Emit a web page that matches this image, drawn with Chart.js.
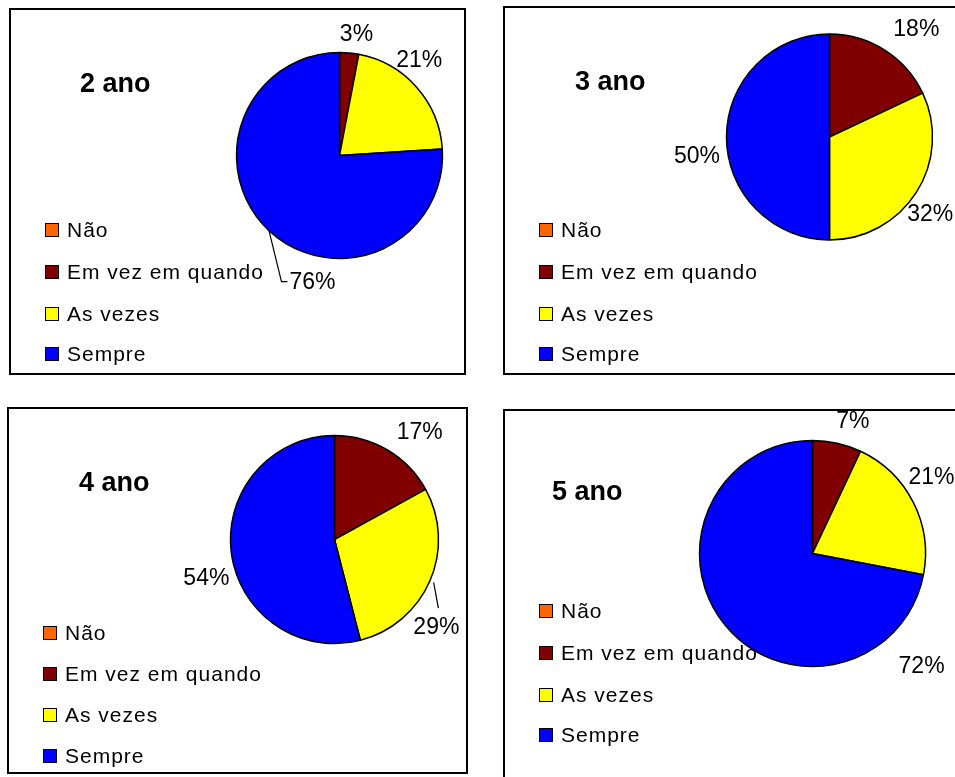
<!DOCTYPE html>
<html>
<head>
<meta charset="utf-8">
<script src="https://cdn.jsdelivr.net/npm/chart.js@4/dist/chart.umd.min.js"></script>
<style>
  html, body { margin: 0; padding: 0; background: #fff; }
  body { width: 955px; height: 777px; overflow: hidden; position: relative;
         font-family: Arial, "Liberation Sans", sans-serif; color: #000; }
  .box { position: absolute; border: 2px solid #000; box-sizing: border-box; }
  .box canvas { position: absolute; left: -2px; top: -2px; }
  .title { position: absolute; font-weight: bold; font-size: 27px; line-height: 30px; white-space: nowrap; }
  .item { position: absolute; font-size: 21px; line-height: 24px; letter-spacing: 1px; white-space: nowrap; }
  .swatch { position: absolute; width: 14px; height: 14px; border: 1px solid #000; box-sizing: border-box; }
</style>
</head>
<body>
<script>
// answers per school year, in percent
const categories = ["Não", "Em vez em quando", "As vezes", "Sempre"];
const titles = ["2 ano", "3 ano", "4 ano", "5 ano"];
const ano2 = [0, 3, 21, 76];
const ano3 = [0, 18, 32, 50];
const ano4 = [0, 17, 29, 54];
const ano5 = [0, 7, 21, 72];
const sliceColors = ["#FF6600", "#800000", "#FFFF00", "#0000FF"];

// where each panel sits on the page
const panels = [
  { values: ano2, box: [9, 8, 457, 367], pie: [339.5, 155.5, 103],
    title: [80, 83], legend: [45, [230, 272, 314, 354]],
    places: [null, { angle: 8, dist: 122 }, { angle: 40, dist: 124 },
             { angle: 192, dist: 130, leader: { gap: 0, bend: [-31, -1], end: [-25, -1] } }] },
  { values: ano3, box: [503, 6, 470, 369], pie: [829.5, 137, 103],
    title: [575, 81], legend: [539, [230, 272, 314, 354]],
    places: [null, { angle: 39, dist: 138 }, { angle: 127.5, dist: 127 }, { angle: 261.5, dist: 134 }] },
  { values: ano4, box: [7, 407, 461, 367], pie: [334.5, 539.5, 104],
    title: [79, 482], legend: [43, [633, 674, 715, 756]],
    places: [null, { angle: 38.5, dist: 137 },
             { angle: 131, dist: 135, leader: { gap: 4, end: [2, -20] } },
             { angle: 253, dist: 134 }] },
  { values: ano5, box: [503, 409, 470, 380], pie: [812.5, 553.5, 113],
    title: [552, 491], legend: [539, [611, 653, 695, 735]],
    places: [null, { angle: 17, dist: 138 }, { angle: 57.5, dist: 141 }, { angle: 136, dist: 157 }] }
];

// percentage labels around the pie, anchored on the arcs Chart.js laid out
const pctLabels = {
  id: "pctLabels",
  afterDatasetsDraw(chart, args, opts) {
    const ctx = chart.ctx;
    const meta = chart.getDatasetMeta(0);
    const values = chart.data.datasets[0].data;
    ctx.save();
    ctx.font = '23px Arial, "Liberation Sans", sans-serif';
    ctx.fillStyle = "#000";
    ctx.strokeStyle = "#000";
    ctx.lineWidth = 1.2;
    ctx.textAlign = "center";
    ctx.textBaseline = "middle";
    meta.data.forEach(function (arc, i) {
      const place = opts.places[i];
      if (!place) return;
      const p = arc.getProps(["x", "y", "outerRadius", "startAngle", "endAngle"], true);
      const a = (place.angle - 90) * Math.PI / 180;
      const lx = p.x + Math.cos(a) * place.dist;
      const ly = p.y + Math.sin(a) * place.dist;
      if (place.leader) {
        const mid = (p.startAngle + p.endAngle) / 2;
        const r0 = p.outerRadius + place.leader.gap;
        ctx.beginPath();
        ctx.moveTo(p.x + Math.cos(mid) * r0, p.y + Math.sin(mid) * r0);
        if (place.leader.bend) ctx.lineTo(lx + place.leader.bend[0], ly + place.leader.bend[1]);
        ctx.lineTo(lx + place.leader.end[0], ly + place.leader.end[1]);
        ctx.stroke();
      }
      ctx.fillText(values[i] + "%", lx, ly);
    });
    ctx.restore();
  }
};

panels.forEach(function (pn, k) {
  const [bx, by, bw, bh] = pn.box;
  const [cx, cy, r] = pn.pie;

  const box = document.createElement("div");
  box.className = "box";
  box.style.left = bx + "px";
  box.style.top = by + "px";
  box.style.width = bw + "px";
  box.style.height = bh + "px";
  document.body.appendChild(box);

  const canvas = document.createElement("canvas");
  canvas.width = bw;
  canvas.height = bh;
  box.appendChild(canvas);

  const px = cx - bx, py = cy - by;
  new Chart(canvas.getContext("2d"), {
    type: "pie",
    data: {
      labels: categories,
      datasets: [{
        data: pn.values,
        backgroundColor: sliceColors,
        borderColor: "#000",
        borderWidth: 1.5,
        radius: r,
        hoverOffset: 0
      }]
    },
    options: {
      responsive: false,
      animation: false,
      events: [],
      layout: { padding: { left: px - r, top: py - r, right: bw - px - r, bottom: bh - py - r } },
      plugins: {
        legend: { display: false },
        tooltip: { enabled: false },
        pctLabels: { places: pn.places }
      }
    },
    plugins: [pctLabels]
  });

  const title = document.createElement("div");
  title.className = "title";
  title.textContent = titles[k];
  title.style.left = pn.title[0] + "px";
  title.style.top = (pn.title[1] - 15) + "px";
  document.body.appendChild(title);

  categories.forEach(function (name, i) {
    const y = pn.legend[1][i];
    const sw = document.createElement("div");
    sw.className = "swatch";
    sw.style.background = sliceColors[i];
    sw.style.left = pn.legend[0] + "px";
    sw.style.top = (y - 7) + "px";
    document.body.appendChild(sw);

    const item = document.createElement("div");
    item.className = "item";
    item.textContent = name;
    item.style.left = (pn.legend[0] + 22) + "px";
    item.style.top = (y - 12) + "px";
    document.body.appendChild(item);
  });
});
</script>
</body>
</html>
